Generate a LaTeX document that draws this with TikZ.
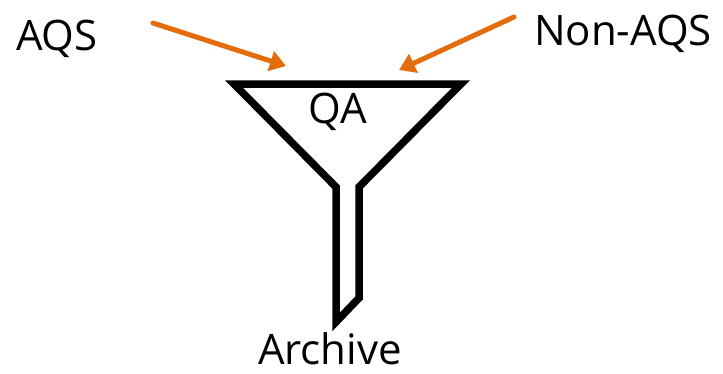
\documentclass[tikz,border=0pt]{standalone}
\usepackage{fontspec}
\setmainfont{Open Sans}
\usetikzlibrary{arrows.meta}
\definecolor{arroworange}{HTML}{E46C0A}
\tikzset{
  label text/.style={font=\fontsize{42}{48}\selectfont, inner sep=0pt, anchor=base, text=black},
  funnel line/.style={draw=black, line width=7.5pt, line join=miter},
  feed arrow/.style={draw=arroworange, line width=5pt, line cap=round, -{Triangle[length=16pt,width=20pt]}}
}
\begin{document}
\begin{tikzpicture}[x=1pt,y=-1pt]
\useasboundingbox (0,0) rectangle (723,373);
% funnel
\draw[funnel line] (234,84) -- (461,84) -- (359,187) -- (359,298) -- (336,322) -- (336,187) -- cycle;
% labels
\node[label text] (qa) at (338,123) {QA};
\node[label text] (aqs) at (57,50) {AQS};
\node[label text] (nonaqs) at (623,45) {Non-AQS};
\node[label text] (archive) at (330,364) {Archive};
% arrow ends
\coordinate (aqsstart) at (153,23);
\coordinate (aqsend) at (286,66);
\coordinate (nonstart) at (514,17);
\coordinate (nonend) at (399,70);
\draw[feed arrow] (aqsstart) -- (aqsend);
\draw[feed arrow] (nonstart) -- (nonend);
\end{tikzpicture}
\end{document}
